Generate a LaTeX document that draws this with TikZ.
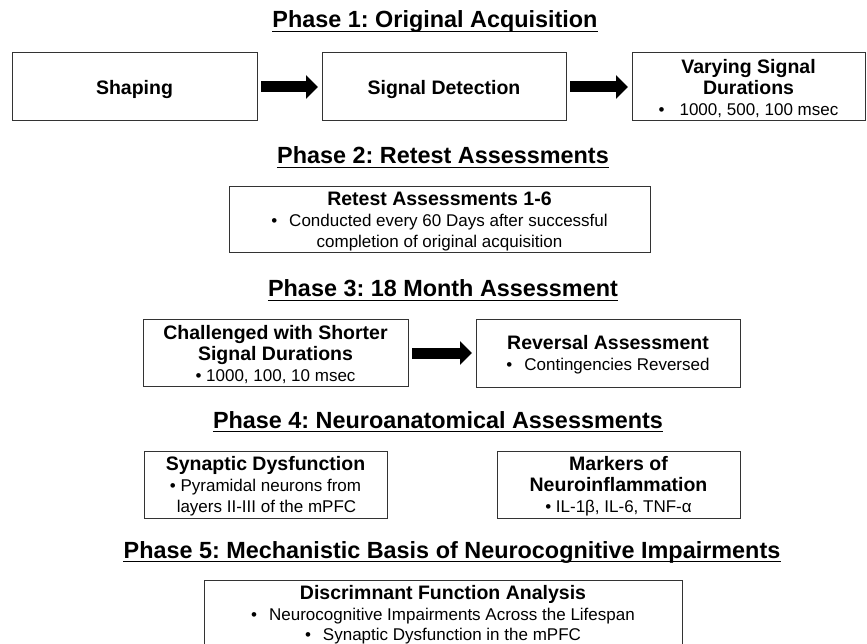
\documentclass[tikz,border=0pt]{standalone}
\usepackage{fontspec}
\setmainfont{Liberation Sans}
\usetikzlibrary{arrows.meta}
\newcommand\regtxt[1]{{\fontsize{17}{21}\selectfont\mdseries #1}}
\frenchspacing
\begin{document}
\begin{tikzpicture}[x=1pt,y=-1pt,
  box/.style={draw=black!80, line width=1pt, inner sep=0pt, outer sep=0pt, align=center,
    text depth=0pt, font=\fontsize{19.5}{21}\selectfont\bfseries},
  ttl/.style={inner sep=0pt, anchor=base, font=\fontsize{23.4}{26}\selectfont\bfseries},
  uline/.style={line width=1.6pt},
  bigarrow/.style={line width=11pt, -{Triangle[length=12pt,width=23pt]}, shorten <=4pt, shorten >=4pt}
]
\useasboundingbox (0,0) rectangle (867,644);
\fill[white] (0,0) rectangle (867,644);
\clip (0,0) rectangle (867,644);

% Phase 1
\node[ttl] (t1) at (435,28) {Phase 1: Original Acquisition};
\draw[uline] ([yshift=-3.5pt]t1.base west) -- ([yshift=-3.5pt]t1.base east);
\node[box, minimum width=245pt, minimum height=68pt] (shaping) at (134.5,87) {Shaping};
\node[box, minimum width=244pt, minimum height=68pt] (signal) at (444,87) {Signal Detection};
\node[box, minimum width=233pt, minimum height=68pt] (varying) at (748.5,87)
  {Varying Signal\\Durations\\\regtxt{\textbullet\hspace{15pt}1000, 500, 100 msec}};
\draw[bigarrow] (shaping.east) -- (signal.west);
\draw[bigarrow] (signal.east) -- (varying.west);

% Phase 2
\node[ttl] (t2) at (443,164) {Phase 2: Retest Assessments};
\draw[uline] ([yshift=-3.5pt]t2.base west) -- ([yshift=-3.5pt]t2.base east);
\node[box, minimum width=421pt, minimum height=66pt] (retest) at (439.5,220)
  {Retest Assessments 1-6\\\regtxt{\textbullet\hspace{12pt}Conducted every 60 Days after successful}\\\regtxt{completion of original acquisition}};

% Phase 3
\node[ttl] (t3) at (443,297) {Phase 3: 18 Month Assessment};
\draw[uline] ([yshift=-3.5pt]t3.base west) -- ([yshift=-3.5pt]t3.base east);
\node[box, minimum width=265pt, minimum height=67pt] (challenged) at (275.5,353)
  {Challenged with Shorter\\Signal Durations\\\regtxt{\textbullet\ 1000, 100, 10 msec}};
\node[box, minimum width=264pt, minimum height=68pt] (reversal) at (608,353)
  {Reversal Assessment\\\regtxt{\textbullet\hspace{12pt}Contingencies Reversed}};
\draw[bigarrow] (challenged.east) -- (reversal.west);

% Phase 4
\node[ttl] (t4) at (438,428) {Phase 4: Neuroanatomical Assessments};
\draw[uline] ([yshift=-3.5pt]t4.base west) -- ([yshift=-3.5pt]t4.base east);
\node[box, minimum width=243pt, minimum height=67pt] (synaptic) at (265.5,484.5)
  {Synaptic Dysfunction\\\regtxt{\textbullet\ Pyramidal neurons from}\\\regtxt{\hspace{2pt}layers II-III of the mPFC}};
\node[box, minimum width=243pt, minimum height=67pt] (markers) at (618.5,484.5)
  {Markers of\\Neuroinflammation\\\regtxt{\textbullet\ IL-1β, IL-6, TNF-α}};

% Phase 5
\node[ttl] (t5) at (452,558) {Phase 5: Mechanistic Basis of Neurocognitive Impairments};
\draw[uline] ([yshift=-3.5pt]t5.base west) -- ([yshift=-3.5pt]t5.base east);
\node[box, anchor=north, minimum width=478pt, minimum height=66pt, font=\fontsize{19.5}{20.5}\selectfont\bfseries] (dfa) at (443,580)
  {Discrimnant Function Analysis\\\regtxt{\textbullet\hspace{12pt}Neurocognitive Impairments Across the Lifespan}\\\regtxt{\textbullet\hspace{12pt}Synaptic Dysfunction in the mPFC}};
\end{tikzpicture}
\end{document}
